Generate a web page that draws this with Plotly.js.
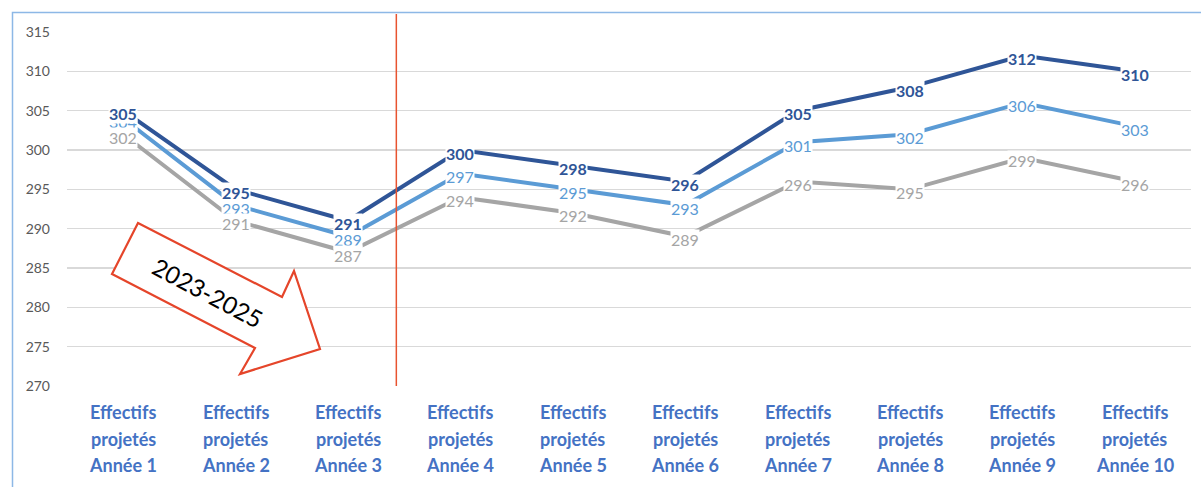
<!DOCTYPE html>
<html>
<head>
<meta charset="utf-8">
<script src="https://cdn.plot.ly/plotly-3.0.1.min.js"></script>
<style>html,body{margin:0;padding:0;background:#fff;}#chart{width:1201px;height:487px;}</style>
</head>
<body>
<div id="chart"></div>
<script>
// ---- data ----
var categories = [
  "Effectifs<br>projetés<br>Année 1",
  "Effectifs<br>projetés<br>Année 2",
  "Effectifs<br>projetés<br>Année 3",
  "Effectifs<br>projetés<br>Année 4",
  "Effectifs<br>projetés<br>Année 5",
  "Effectifs<br>projetés<br>Année 6",
  "Effectifs<br>projetés<br>Année 7",
  "Effectifs<br>projetés<br>Année 8",
  "Effectifs<br>projetés<br>Année 9",
  "Effectifs<br>projetés<br>Année 10"
];
var seriesHigh = [305, 295, 291, 300, 298, 296, 305, 308, 312, 310];
var seriesMid  = [304, 293, 289, 297, 295, 293, 301, 302, 306, 303];
var seriesLow  = [302, 291, 287, 294, 292, 289, 296, 295, 299, 296];
var yTicks = [270, 275, 280, 285, 290, 295, 300, 305, 310, 315];
var arrowText = "2023-2025";

// ---- layout helpers ----
var W = 1201, H = 487;
var M = {l: 67, r: 10, t: 32, b: 101};
var PW = W - M.l - M.r, PH = H - M.t - M.b;
function px(x) { return (x - M.l) / PW; }
function py(y) { return (H - M.b - y) / PH; }

var colors = {high: "#2F5597", mid: "#5B9BD5", low: "#A5A5A5"};

function lineTrace(vals, color) {
  return {
    x: categories, y: vals, type: "scatter", mode: "lines",
    line: {color: color, width: 4}, hoverinfo: "skip", showlegend: false
  };
}
var traces = [lineTrace(seriesLow, colors.low), lineTrace(seriesMid, colors.mid), lineTrace(seriesHigh, colors.high)];

var annotations = [];
function addLabels(vals, color, weight) {
  vals.forEach(function (v, i) {
    annotations.push({
      x: categories[i], y: v, xref: "x", yref: "y",
      xanchor: "center", yanchor: "middle", yshift: -3,
      text: String(Math.round(v)), showarrow: false,
      bgcolor: "#ffffff", borderpad: 0,
      font: {family: "Lato, sans-serif", size: 16, color: color, weight: weight}
    });
  });
}
addLabels(seriesMid, colors.mid, 400);
addLabels(seriesLow, colors.low, 400);
addLabels(seriesHigh, colors.high, 700);

// category labels, one annotation per line
categories.forEach(function (c) {
  c.split("<br>").forEach(function (ln, k) {
    annotations.push({
      x: c, xref: "x", y: 0, yref: "paper", xanchor: "center", yanchor: "middle",
      yshift: -(26 + k * 26.5), text: ln, showarrow: false,
      font: {family: "Lato, sans-serif", size: 18, color: "#4472C4", weight: 700}
    });
  });
});

// arrow text
annotations.push({
  x: px(208), y: py(292), xref: "paper", yref: "paper",
  xanchor: "center", yanchor: "middle",
  text: arrowText, showarrow: false, textangle: 28,
  font: {family: "Lato, sans-serif", size: 24, color: "#000000"}
});

var arrowPts = [[138,223],[282,297],[294,271],[320,349],[240,374],[255,348],[112,274]];
var arrowPath = "M " + arrowPts.map(function (p) { return px(p[0]) + "," + py(p[1]); }).join(" L ") + " Z";

var shapes = [
  {type: "rect", xref: "paper", yref: "paper", x0: px(12.5), x1: px(1230), y0: py(520), y1: py(12.5),
   line: {color: "#8DB8E6", width: 1.5}, fillcolor: "rgba(0,0,0,0)", layer: "below"},
  {type: "line", xref: "x", yref: "paper", x0: 2.43, x1: 2.43, y0: 0, y1: py(14),
   line: {color: "#E8532F", width: 1.5}},
  {type: "path", xref: "paper", yref: "paper", path: arrowPath,
   line: {color: "#E5452A", width: 2.2}, fillcolor: "#ffffff", layer: "above"}
];

var layout = {
  width: W, height: H,
  margin: M,
  paper_bgcolor: "#ffffff", plot_bgcolor: "#ffffff",
  showlegend: false,
  xaxis: {
    type: "category", range: [-0.5, 9.5], showgrid: false, zeroline: false,
    showline: false, showticklabels: false, ticks: "", fixedrange: true
  },
  yaxis: {
    range: [270, 315], tickvals: yTicks, ticktext: yTicks.map(String),
    showgrid: true, gridcolor: "#D9D9D9", gridwidth: 1.5, zeroline: false,
    showline: false, ticks: "", ticklabelstandoff: 16,
    tickfont: {family: "Lato, sans-serif", size: 14, color: "#595959"}, fixedrange: true
  },
  annotations: annotations,
  shapes: shapes
};

Plotly.newPlot("chart", traces, layout, {displayModeBar: false, staticPlot: true});
</script>
</body>
</html>
